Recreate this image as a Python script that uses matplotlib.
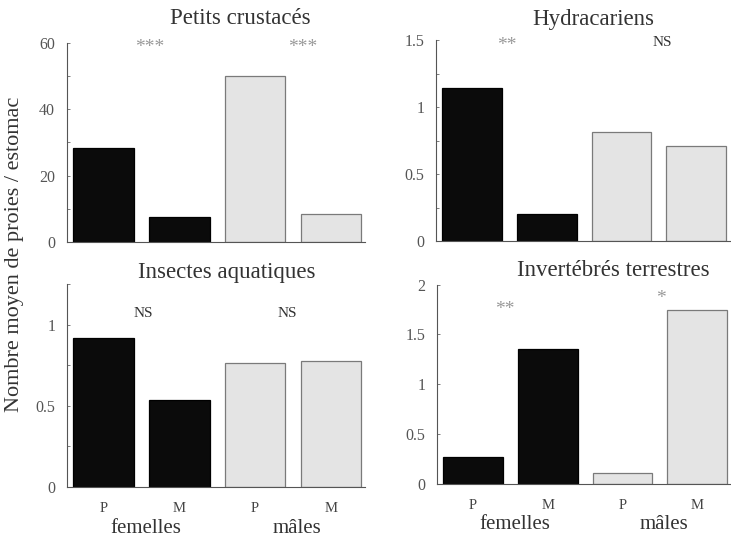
import matplotlib
matplotlib.use("Agg")
import matplotlib.pyplot as plt
from matplotlib.ticker import MultipleLocator, FuncFormatter

plt.rcParams['font.family'] = ['Liberation Serif', 'DejaVu Serif']

# data
groups = ["P", "M", "P", "M"]
sexes = ["femelles", "mâles"]
titles = ["Petits crustacés", "Hydracariens", "Insectes aquatiques", "Invertébrés terrestres"]
crustaces = [28.2, 7.6, 49.9, 8.4]
hydracariens = [1.14, 0.20, 0.81, 0.71]
insectes = [0.92, 0.535, 0.765, 0.775]
terrestres = [0.27, 1.35, 0.11, 1.745]
# significance marks: (label, x, y)
sig_crustaces = [("***", 0.61, 58.6), ("***", 2.63, 58.6)]
sig_hydra = [("**", 0.46, 1.46), ("NS", 2.54, 1.48)]
sig_insectes = [("NS", 0.53, 1.07), ("NS", 2.43, 1.07)]
sig_terrestres = [("**", 0.43, 1.755), ("*", 2.51, 1.865)]

W, H = 731, 539
fig = plt.figure(figsize=(W / 100, H / 100), dpi=100)


def px_axes(l, r, b, t):
    return fig.add_axes([l / W, (H - b) / H, (r - l) / W, (b - t) / H])


panels = [
    (px_axes(67, 365, 242, 42.5), crustaces, 60, 20, 10, sig_crustaces, False),
    (px_axes(436, 730, 241, 40), hydracariens, 1.5, 0.5, 0.25, sig_hydra, False),
    (px_axes(67, 365, 486.7, 284.2), insectes, 1.25, 0.5, 0.25, sig_insectes, True),
    (px_axes(437, 731, 484, 284.6), terrestres, 2, 0.5, 0.5, sig_terrestres, True),
]

x = range(len(groups))
colors = ["#0b0b0b", "#0b0b0b", "#e4e4e4", "#e4e4e4"]
edges = ["#000000", "#000000", "#7a7a7a", "#7a7a7a"]

for ax, vals, ymax, major, minor, sigs, bottom in panels:
    ax.bar(x, vals, width=0.8, color=colors, edgecolor=edges, linewidth=0.9)
    ax.set_xlim(-0.48, 3.45)
    ax.set_ylim(0, ymax)
    for s in ["top", "right"]:
        ax.spines[s].set_visible(False)
    for s in ["left", "bottom"]:
        ax.spines[s].set_color("#555555")
        ax.spines[s].set_linewidth(0.8)
    ax.yaxis.set_major_locator(MultipleLocator(major))
    ax.yaxis.set_minor_locator(MultipleLocator(minor))
    ax.yaxis.set_major_formatter(FuncFormatter(lambda v, p: "%g" % v))
    ax.tick_params(axis="y", which="both", direction="in", length=2, width=0.6,
                   colors="#666666", labelsize=11.5, labelcolor="#555555", pad=8.5)
    ax.set_xticks(list(x))
    if bottom:
        ax.set_xticklabels(groups)
        ax.tick_params(axis="x", length=0, labelsize=10.5, labelcolor="#444444", pad=11)
        ax.text(0.56, -0.205, sexes[0], transform=ax.get_xaxis_transform(),
                ha="center", va="center", fontsize=15, color="#333333")
        ax.text(2.55, -0.205, sexes[1], transform=ax.get_xaxis_transform(),
                ha="center", va="center", fontsize=15, color="#333333")
    else:
        ax.set_xticklabels([])
        ax.tick_params(axis="x", length=0)
    for lab, sx, sy in sigs:
        star = "*" in lab
        ax.text(sx, sy, lab, ha="center", va="center",
                fontsize=11 if not star else 14,
                color="#999999" if star else "#333333")

title_pos = [(240, 18), (593, 20), (227, 273), (613, 270)]
for t, (tx, ty) in zip(titles, title_pos):
    fig.text(tx / W, 1 - ty / H, t, ha="center", va="center", fontsize=16.5, color="#333333")

fig.text(15 / W, 1 - 254 / H, "Nombre moyen de proies / estomac", rotation=90,
         ha="center", va="center", fontsize=16, color="#333333")

fig.savefig("out.png", dpi=100)
